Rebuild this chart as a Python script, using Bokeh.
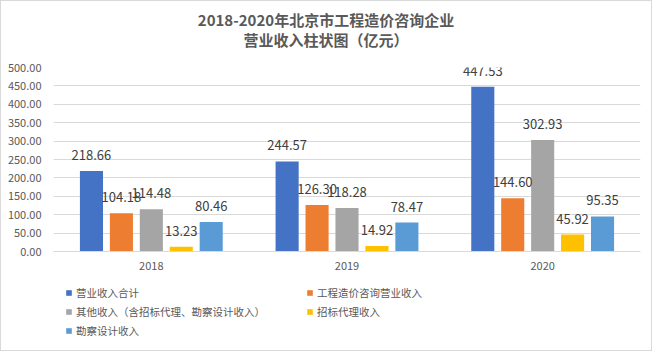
from bokeh.plotting import figure
from bokeh.models import (ColumnDataSource, FactorRange, LabelSet, Legend, LegendItem,
                          FixedTicker, PrintfTickFormatter, Div)
from bokeh.layouts import column
from bokeh.core.properties import value
from bokeh.transform import dodge
from bokeh.embed import file_html
from bokeh.resources import INLINE

title_lines = ["2018-2020年北京市工程造价咨询企业", "营业收入柱状图（亿元）"]
years = ["2018", "2019", "2020"]
series_names = ["营业收入合计", "工程造价咨询营业收入", "其他收入（含招标代理、勘察设计收入）",
                "招标代理收入", "勘察设计收入"]
total = [218.66, 244.57, 447.53]
cost_consult = [104.18, 126.30, 144.60]
other = [114.48, 118.28, 302.93]
bidding = [13.23, 14.92, 45.92]
survey = [80.46, 78.47, 95.35]
yticks = [0, 50, 100, 150, 200, 250, 300, 350, 400, 450, 500]

series_values = [total, cost_consult, other, bidding, survey]
colors = ["#4472C4", "#ED7D31", "#A5A5A5", "#FFC000", "#5B9BD5"]
offsets = [-0.306, -0.153, 0.0, 0.153, 0.306]

FONT = "Noto Sans CJK SC"

title = Div(text=("<div style=\"width:650px;text-align:center;font-family:'Noto Sans CJK SC';"
                  "font-weight:bold;font-size:15px;color:#595959;line-height:20px;padding-top:9px\">"
                  + "<br>".join(title_lines) + "</div>"),
            width=650, height=50, margin=0)

p = figure(x_range=FactorRange(*years), y_range=(0, 500), width=650, height=225,
           output_backend="svg", toolbar_location=None, margin=0,
           min_border_left=52, min_border_right=11, min_border_top=16, min_border_bottom=25)
p.outline_line_color = None
p.title.visible = False

sources = []
for i, (name, vals) in enumerate(zip(series_names, series_values)):
    src = ColumnDataSource(dict(year=years, v=vals, t=["%.2f" % v for v in vals]))
    sources.append(src)
    p.vbar(x=dodge("year", offsets[i], range=p.x_range), top="v", width=0.118,
           source=src, fill_color=colors[i], line_color=None)
    labels = LabelSet(x=dodge("year", offsets[i], range=p.x_range), y="v", text="t",
                      source=src, text_align="center", text_baseline="middle", y_offset=16,
                      text_font=value(FONT), text_font_size="13px", text_color="#404040")
    p.add_layout(labels)

p.yaxis.ticker = FixedTicker(ticks=yticks)
p.yaxis.formatter = PrintfTickFormatter(format="%.2f")
p.yaxis.axis_line_color = None
p.yaxis.major_tick_line_color = None
p.yaxis.minor_tick_line_color = None
p.yaxis.major_label_standoff = 6
p.yaxis.major_label_text_font = FONT
p.yaxis.major_label_text_font_size = "11px"
p.yaxis.major_label_text_color = "#595959"

p.xaxis.axis_line_color = "#d9d9d9"
p.xaxis.major_tick_line_color = None
p.xaxis.minor_tick_line_color = None
p.xaxis.major_label_standoff = 4
p.xaxis.major_label_text_font = FONT
p.xaxis.major_label_text_font_size = "11px"
p.xaxis.major_label_text_color = "#595959"

p.xgrid.grid_line_color = None
p.ygrid.grid_line_color = "#d9d9d9"

# legend panel: keys use the same series sources (zero-size bars, nothing drawn)
pl = figure(x_range=FactorRange(*years), y_range=(0, 1), width=650, height=74, output_backend="svg",
            toolbar_location=None, margin=0, min_border=0)
pl.axis.visible = False
pl.grid.visible = False
pl.outline_line_color = None
pl.title.visible = False
keys = []
for i in range(5):
    keys.append(pl.vbar(x="year", top="v", bottom="v", width=0, source=sources[i],
                        fill_color=colors[i], line_color=None))

legend = Legend(items=[LegendItem(label=series_names[i], renderers=[keys[i]]) for i in range(5)],
                location=(12, 12), orientation="horizontal", ncols=2, padding=0, margin=0, spacing=4,
                label_height=14, label_width=226, glyph_height=7, glyph_width=7, label_standoff=4,
                label_text_font=FONT, label_text_font_size="10.5px", label_text_color="#595959",
                background_fill_alpha=0, border_line_color=None)
pl.add_layout(legend)

layout = column(title, p, pl, spacing=0, styles={"border": "1px solid #d9d9d9"})

open("out.html", "w").write(file_html(layout, INLINE))
